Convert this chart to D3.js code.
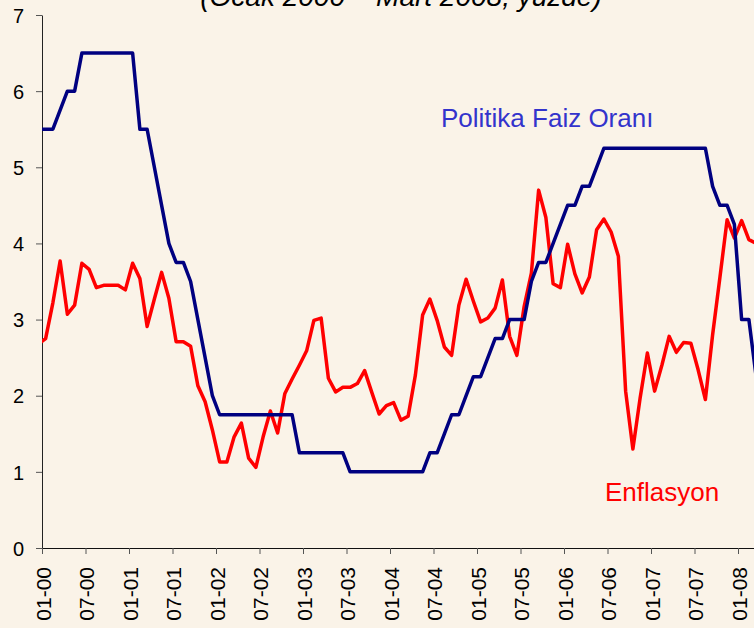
<!DOCTYPE html>
<html>
<head>
<meta charset="utf-8">
<script src="https://cdn.jsdelivr.net/npm/d3@7"></script>
<style>
    html, body { margin: 0; padding: 0; background: #faf3e8; }
    svg { display: block; font-family: "Liberation Sans", Arial, sans-serif; }
</style>
</head>
<body>
<div class="chart-container"></div>
<script>
// Monthly data, Dec 1999 .. Mar 2008 (the Dec 1999 value only feeds the line into the left edge)
const months = d3.timeMonth.range(new Date(1999, 11, 1), new Date(2008, 3, 1));

const policyRate = [
    5.5,
    5.5, 5.5, 5.75, 6.0, 6.0, 6.5, 6.5, 6.5, 6.5, 6.5, 6.5, 6.5,
    6.5, 5.5, 5.5, 5.0, 4.5, 4.0, 3.75, 3.75, 3.5, 3.0, 2.5, 2.0,
    1.75, 1.75, 1.75, 1.75, 1.75, 1.75, 1.75, 1.75, 1.75, 1.75, 1.75, 1.25,
    1.25, 1.25, 1.25, 1.25, 1.25, 1.25, 1.0, 1.0, 1.0, 1.0, 1.0, 1.0,
    1.0, 1.0, 1.0, 1.0, 1.0, 1.25, 1.25, 1.5, 1.75, 1.75, 2.0, 2.25,
    2.25, 2.5, 2.75, 2.75, 3.0, 3.0, 3.0, 3.5, 3.75, 3.75, 4.0, 4.25,
    4.5, 4.5, 4.75, 4.75, 5.0, 5.25, 5.25, 5.25, 5.25, 5.25, 5.25, 5.25,
    5.25, 5.25, 5.25, 5.25, 5.25, 5.25, 5.25, 5.25, 4.75, 4.5, 4.5, 4.25,
    3.0, 3.0, 2.25
];

const inflation = [
    2.68,
    2.75, 3.22, 3.77, 3.07, 3.19, 3.74, 3.66, 3.42, 3.45, 3.45, 3.45, 3.39,
    3.74, 3.54, 2.91, 3.27, 3.62, 3.28, 2.71, 2.71, 2.65, 2.13, 1.92, 1.55,
    1.13, 1.13, 1.46, 1.64, 1.18, 1.06, 1.46, 1.80, 1.51, 2.03, 2.22, 2.40,
    2.59, 2.99, 3.02, 2.23, 2.05, 2.11, 2.11, 2.16, 2.33, 2.04, 1.76, 1.87,
    1.91, 1.68, 1.73, 2.27, 3.06, 3.27, 2.99, 2.64, 2.53, 3.19, 3.53, 3.24,
    2.97, 3.02, 3.15, 3.52, 2.78, 2.53, 3.17, 3.61, 4.70, 4.34, 3.47, 3.42,
    3.99, 3.60, 3.35, 3.56, 4.18, 4.32, 4.15, 3.83, 2.06, 1.30, 1.97, 2.56,
    2.06, 2.40, 2.78, 2.57, 2.70, 2.69, 2.34, 1.95, 2.80, 3.55, 4.31, 4.07,
    4.30, 4.05, 4.00
];

const tickLabels = ['01-00', '07-00', '01-01', '07-01', '01-02', '07-02', '01-03', '07-03',
    '01-04', '07-04', '01-05', '07-05', '01-06', '07-06', '01-07', '07-07', '01-08'];
const yTicks = [0, 1, 2, 3, 4, 5, 6, 7];

const width = 754, height = 628;
const plot = { left: 42, top: 15, bottom: 548, step: 7.25 };

const svg = d3.select('.chart-container')
    .append('svg')
    .attr('width', width)
    .attr('height', height);

svg.append('rect')
    .attr('width', width)
    .attr('height', height)
    .attr('fill', '#faf3e8');

// Category axis: index 0 = Jan 2000, points sit in the middle of each month
const nCats = months.length - 1;
const x = d3.scaleLinear()
    .domain([-0.5, nCats - 0.5])
    .range([plot.left, plot.left + nCats * plot.step]);

const y = d3.scaleLinear()
    .domain([0, 7])
    .range([plot.bottom, plot.top]);

// Title (only its lower part is inside the picture)
svg.append('text')
    .attr('x', 401)
    .attr('y', 5.5)
    .attr('text-anchor', 'middle')
    .style('font-size', '28px')
    .style('font-style', 'italic')
    .attr('fill', '#000')
    .text('(Ocak 2000 – Mart 2008, yüzde)');

// Y axis
const yAxis = svg.append('g')
    .attr('transform', `translate(${plot.left},0)`)
    .call(d3.axisLeft(y).tickValues(yTicks).tickFormat(d3.format('d'))
        .tickSize(6).tickSizeOuter(0).tickPadding(12));
yAxis.select('.domain').attr('stroke', '#222');
yAxis.selectAll('.tick line').attr('stroke', '#555');
yAxis.selectAll('.tick text')
    .attr('fill', '#000')
    .attr('dy', '0.36em')
    .style('font-size', '20px')
    .style('font-family', '"Liberation Sans", Arial, sans-serif');

// X axis, a tick every six months
const xAxis = svg.append('g')
    .attr('transform', `translate(0,${plot.bottom})`)
    .call(d3.axisBottom(x)
        .tickValues(tickLabels.map((d, i) => i * 6 - 0.5))
        .tickFormat((d, i) => tickLabels[i])
        .tickSize(6).tickSizeOuter(0));
xAxis.select('.domain').attr('stroke', '#111');
xAxis.selectAll('.tick line').attr('stroke', '#555');
xAxis.selectAll('.tick text')
    .attr('fill', '#000')
    .attr('transform', 'rotate(-90)')
    .attr('x', -19)
    .attr('y', 0)
    .attr('dy', '0.4em')
    .attr('text-anchor', 'end')
    .style('font-size', '21px')
    .style('font-family', '"Liberation Sans", Arial, sans-serif');

// Clip the lines to the plot area
svg.append('clipPath')
    .attr('id', 'plot-clip')
    .append('rect')
    .attr('x', plot.left)
    .attr('y', 0)
    .attr('width', width - plot.left)
    .attr('height', plot.bottom);

const line = d3.line()
    .x((d, i) => x(i - 1))
    .y(d => y(d));

const lines = svg.append('g').attr('clip-path', 'url(#plot-clip)');

lines.append('path')
    .datum(inflation)
    .attr('fill', 'none')
    .attr('stroke', '#ff0000')
    .attr('stroke-width', 3.5)
    .attr('stroke-linejoin', 'round')
    .attr('d', line);

lines.append('path')
    .datum(policyRate)
    .attr('fill', 'none')
    .attr('stroke', '#000080')
    .attr('stroke-width', 3.5)
    .attr('stroke-linejoin', 'round')
    .attr('d', line);

// Series labels
svg.append('text')
    .attr('x', 441)
    .attr('y', 126.5)
    .style('font-size', '26px')
    .attr('fill', '#3333cc')
    .text('Politika Faiz Oranı');

svg.append('text')
    .attr('x', 605)
    .attr('y', 501)
    .style('font-size', '26px')
    .attr('fill', '#ff0000')
    .text('Enflasyon');
</script>
</body>
</html>
